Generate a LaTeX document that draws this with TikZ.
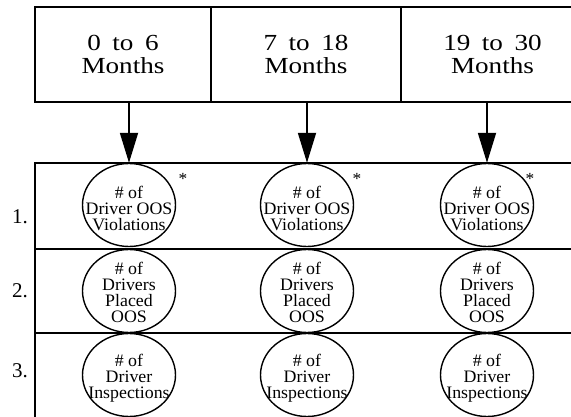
\documentclass[tikz,border=0pt]{standalone}
\usepackage{fontspec}
\setmainfont{Liberation Serif}
\newfontfamily\headfont[FakeStretch=1.18]{Liberation Serif}
\newfontfamily\cellfont[FakeStretch=1.02]{Liberation Serif}
\usetikzlibrary{arrows.meta,shapes.geometric}

\begin{document}
\begin{tikzpicture}[x=1pt,y=-1pt,
  frame/.style={draw,line width=1.8pt},
  period/.style={frame, minimum height=95pt, inner sep=0pt, align=center,
    font=\headfont\fontsize{23}{23.5}\selectfont},
  measure/.style={ellipse, draw, line width=1.4pt, minimum width=93pt,
    minimum height=83pt, inner sep=0pt},
  measuretext/.style={inner sep=0pt, align=center,
    font=\cellfont\fontsize{17.5}{16}\selectfont},
  rowlabel/.style={font=\fontsize{21}{21}\selectfont},
  starnote/.style={font=\cellfont\fontsize{17}{17}\selectfont, inner sep=0pt},
  feed/.style={-{Triangle[length=30pt,width=18pt]}, line width=1.8pt}
]
\useasboundingbox (0,0) rectangle (571,417);

% time-period header boxes
\node[period, minimum width=176pt] (p1) at (123,54.5)
  {0\hspace{0.5em}to\hspace{0.5em}6\\Months};
\node[period, minimum width=190pt] (p2) at (306,54.5)
  {7\hspace{0.5em}to\hspace{0.5em}18\\Months};
\node[period, minimum width=183pt] (p3) at (492.5,54.5)
  {19\hspace{0.5em}to\hspace{0.5em}30\\Months};

% table rows
\draw[frame] (35,163) rectangle (590,249);
\draw[frame] (35,249) rectangle (590,333);
\draw[frame] (35,333) rectangle (590,430);

% row numbers
\node[rowlabel] (r1) at (20,217) {1.};
\node[rowlabel] (r2) at (20,291) {2.};
\node[rowlabel] (r3) at (20,371) {3.};

% measures, one column per period
\foreach \c/\x in {1/129,2/307,3/487}{
  \node[measure] (m\c1) at (\x,205) {};
  \node[measure] (m\c2) at (\x,291) {};
  \node[measure] (m\c3) at (\x,375) {};
  \node[measuretext] (t\c1) at ([yshift=-3pt]m\c1.center) {\# of\\Driver OOS\\Violations};
  \node[measuretext] (t\c2) at ([yshift=-1pt]m\c2.center) {\# of\\Drivers\\Placed\\OOS};
  \node[measuretext] (t\c3) at ([yshift=-3pt]m\c3.center) {\# of\\Driver\\Inspections};
}

% footnote marks
\node[starnote] (s1) at (183,179) {*};
\node[starnote] (s2) at (357,179) {*};
\node[starnote] (s3) at (530,179) {*};

% arrows from periods to their columns
\draw[feed] (p1.south -| m11.north) -- (m11.north);
\draw[feed] (p2.south -| m21.north) -- (m21.north);
\draw[feed] (p3.south -| m31.north) -- (m31.north);
\end{tikzpicture}
\end{document}
